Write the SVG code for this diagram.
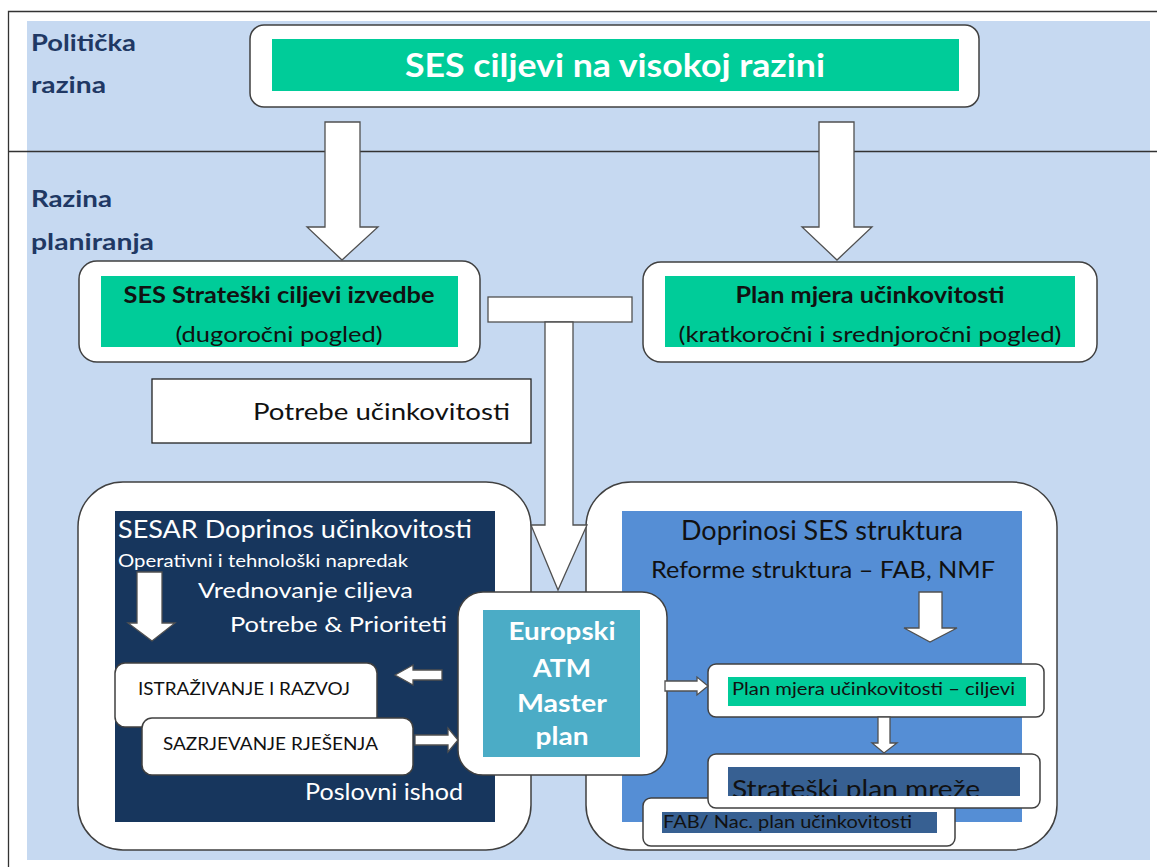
<svg xmlns="http://www.w3.org/2000/svg" width="1157" height="867" viewBox="0 0 1157 867">
<defs>
<style>
text{font-family:Lato,'Liberation Sans',sans-serif}
.b{font-weight:bold}
.box{fill:#fff;stroke:#404040;stroke-width:1.5}
.arr{fill:#fff;stroke:#505050;stroke-width:1.3}
.green{fill:#00CC99}
.lbl{fill:#203864;font-weight:bold;font-size:23px}
.w{fill:#fff}
.k{fill:#111}
.m{text-anchor:middle}
</style>
<clipPath id="cs"><rect x="728" y="767" width="292" height="29"/></clipPath>
</defs>
<rect width="1157" height="867" fill="#fff"/>
<rect x="27" y="21" width="1123" height="839" fill="#C6D9F1"/>
<path d="M8.5,867 V11.5 H1157 M8,151.5 H1157" fill="none" stroke="#333" stroke-width="1.3"/>
<g id="labels">
<text class="lbl" x="31" y="51" textLength="105" lengthAdjust="spacingAndGlyphs">Politička</text>
<text class="lbl" x="31" y="93" textLength="75" lengthAdjust="spacingAndGlyphs">razina</text>
<text class="lbl" x="31" y="207" textLength="81" lengthAdjust="spacingAndGlyphs">Razina</text>
<text class="lbl" x="31" y="250" textLength="123" lengthAdjust="spacingAndGlyphs">planiranja</text>
</g>
<g id="ses-ciljevi">
<rect class="box" x="250" y="25" width="729" height="82" rx="14"/>
<rect class="green" x="272" y="39" width="687" height="52"/>
<text class="b w m" x="615" y="77" font-size="32" textLength="420" lengthAdjust="spacingAndGlyphs">SES ciljevi na visokoj razini</text>
</g>
<g id="ses-strateski">
<rect class="box" x="79" y="261" width="401" height="101" rx="18"/>
<rect class="green" x="101" y="276" width="357" height="71"/>
<text class="b k m" x="279" y="303" font-size="22" textLength="311" lengthAdjust="spacingAndGlyphs">SES Strateški ciljevi izvedbe</text>
<text class="k m" x="279" y="342" font-size="21" textLength="207" lengthAdjust="spacingAndGlyphs">(dugoročni pogled)</text>
</g>
<g id="plan-mjera">
<rect class="box" x="643" y="262" width="454" height="100" rx="18"/>
<rect class="green" x="665" y="276" width="410" height="71"/>
<text class="b k m" x="870" y="303" font-size="22" textLength="269" lengthAdjust="spacingAndGlyphs">Plan mjera učinkovitosti</text>
<text class="k m" x="870" y="342" font-size="21" textLength="383" lengthAdjust="spacingAndGlyphs">(kratkoročni i srednjoročni pogled)</text>
</g>
<g id="potrebe">
<rect x="152" y="379" width="379" height="64" fill="#fff" stroke="#222" stroke-width="1.3"/>
<text class="k" x="253" y="420" font-size="24" textLength="257" lengthAdjust="spacingAndGlyphs">Potrebe učinkovitosti</text>
</g>
<g id="sesar">
<rect class="box" x="78" y="482" width="453" height="368" rx="45"/>
<rect x="115" y="511" width="380" height="311" fill="#17365D"/>
<text class="w" x="118" y="538" font-size="25" textLength="354" lengthAdjust="spacingAndGlyphs">SESAR Doprinos učinkovitosti</text>
<text class="w" x="118" y="567" font-size="18" textLength="290" lengthAdjust="spacingAndGlyphs">Operativni i tehnološki napredak</text>
<text class="w" x="198" y="598" font-size="22" textLength="215" lengthAdjust="spacingAndGlyphs">Vrednovanje ciljeva</text>
<text class="w" x="230" y="632" font-size="22" textLength="217" lengthAdjust="spacingAndGlyphs">Potrebe &amp; Prioriteti</text>
<text class="w" x="305" y="800" font-size="23" textLength="158" lengthAdjust="spacingAndGlyphs">Poslovni ishod</text>
</g>
<g id="istrazivanje">
<rect class="box" x="115" y="663" width="262" height="64" rx="10"/>
<text class="k" x="138" y="695" font-size="17" textLength="212" lengthAdjust="spacingAndGlyphs">ISTRAŽIVANJE I RAZVOJ</text>
</g>
<g id="sazrjevanje">
<rect class="box" x="142" y="718" width="271" height="57" rx="10"/>
<text class="k" x="163" y="750" font-size="17" textLength="215" lengthAdjust="spacingAndGlyphs">SAZRJEVANJE RJEŠENJA</text>
</g>
<g id="doprinosi-ses">
<rect class="box" x="586" y="482" width="471" height="368" rx="45"/>
<rect x="622" y="511" width="400" height="311" fill="#558ED5"/>
<text class="k m" x="822" y="540" font-size="26" textLength="282" lengthAdjust="spacingAndGlyphs">Doprinosi SES struktura</text>
<text class="k m" x="823" y="578" font-size="24" textLength="344" lengthAdjust="spacingAndGlyphs">Reforme struktura – FAB, NMF</text>
</g>
<g id="plan-ciljevi">
<rect class="box" x="708" y="664" width="336" height="53" rx="8"/>
<rect class="green" x="728" y="677" width="298" height="29"/>
<text class="k" x="732" y="695" font-size="18" textLength="283" lengthAdjust="spacingAndGlyphs">Plan mjera učinkovitosti  – ciljevi</text>
</g>
<g id="fab">
<rect class="box" x="643" y="798" width="312" height="48" rx="8"/>
<rect x="662" y="812" width="275" height="21" fill="#376092"/>
<text class="k" x="663" y="828" font-size="18" textLength="249" lengthAdjust="spacingAndGlyphs">FAB/ Nac. plan učinkovitosti</text>
</g>
<g id="strateski-plan">
<rect class="box" x="708" y="754" width="332" height="54" rx="8"/>
<rect x="728" y="767" width="292" height="29" fill="#376092"/>
<text class="k" x="732" y="798" font-size="25" textLength="248" lengthAdjust="spacingAndGlyphs" clip-path="url(#cs)">Strateški plan mreže</text>
</g>
<g id="europski-atm">
<rect class="box" x="458" y="592" width="209" height="183" rx="25"/>
<rect x="483" y="610" width="157" height="147" fill="#4BACC6"/>
<text class="b w m" x="562" y="640" font-size="25" textLength="107" lengthAdjust="spacingAndGlyphs">Europski</text>
<text class="b w m" x="562" y="677" font-size="25" textLength="58" lengthAdjust="spacingAndGlyphs">ATM</text>
<text class="b w m" x="562" y="712" font-size="25" textLength="90" lengthAdjust="spacingAndGlyphs">Master</text>
<text class="b w m" x="562" y="745" font-size="25" textLength="53" lengthAdjust="spacingAndGlyphs">plan</text>
</g>
<g id="connectors">
<polygon class="arr" points="325,122 360,122 360,227 378,227 342,260 307,227 325,227"/>
<polygon class="arr" points="819,122 854,122 854,227 872,227 837,260 802,227 819,227"/>
<rect class="arr" x="488" y="297" width="144" height="25"/>
<polygon class="arr" points="545,322 573,322 573,525 587,525 558,590 531,525 545,525"/>
<polygon class="arr" points="137,572 162,572 162,623 175,623 152,641 128,623 137,623"/>
<polygon class="arr" points="395,675 413,665 413,670 442,670 442,680 413,680 413,685"/>
<polygon class="arr" points="415,735 448,735 448,728 458,740 448,752 448,745 415,745"/>
<polygon class="arr" points="665,681 697,681 697,677 708,686 697,695 697,691 665,691"/>
<polygon class="arr" points="919,592 942,592 942,628 957,628 930,642 904,628 919,628"/>
<polygon class="arr" points="878,717 890,717 890,743 897,743 884,753 872,743 878,743"/>
</g>
</svg>
